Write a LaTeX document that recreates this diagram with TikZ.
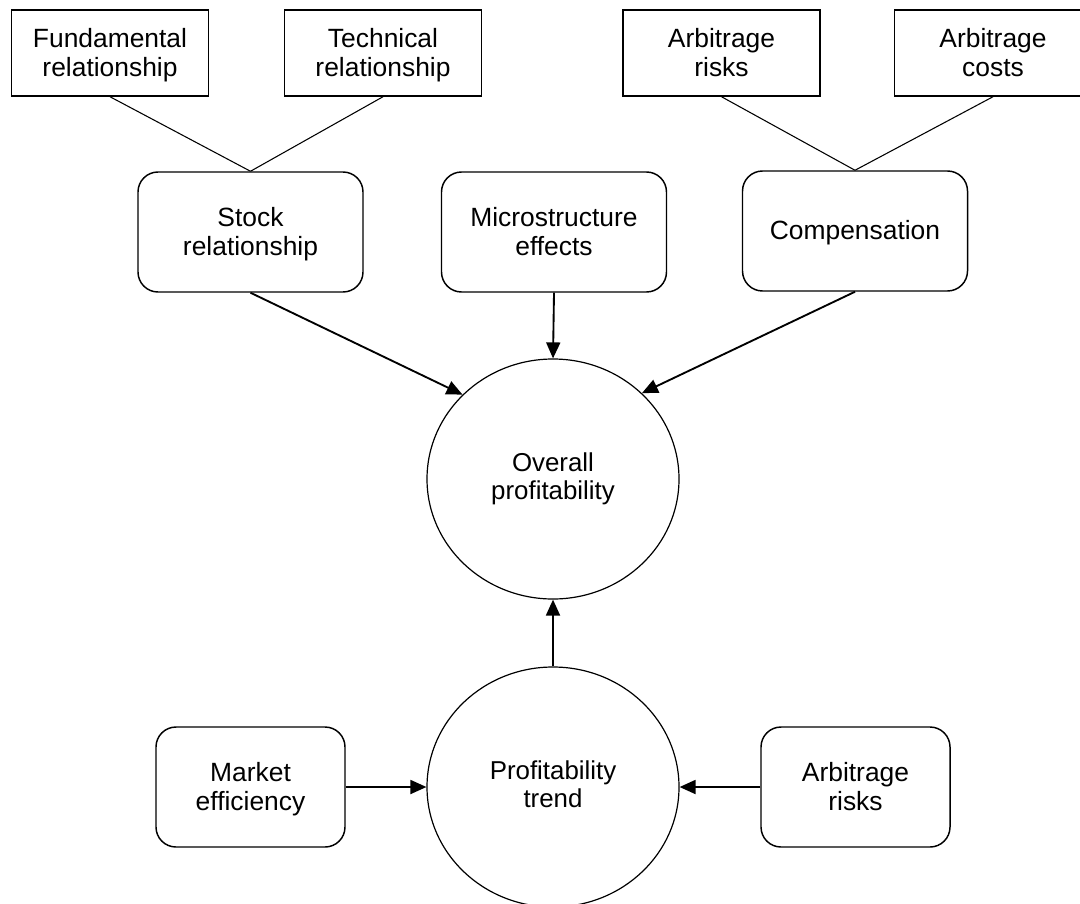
\documentclass[tikz,border=0pt]{standalone}
\usepackage{fontspec}
\setmainfont{Liberation Sans}
\newcommand{\diagfont}{\fontsize{19.8}{21.75}\selectfont}
\newcommand{\roundfont}{\fontsize{19.4}{21.5}\selectfont}
\usetikzlibrary{arrows.meta, positioning, shapes.geometric}

\begin{document}
\begin{tikzpicture}[
  x=0.75pt, y=-0.75pt,
  factor/.style={draw, line width=1.1pt, minimum width=147.5pt, text depth=1.5pt,
                 minimum height=64.5pt, align=center, font=\diagfont},
  driver/.style={draw, rounded corners=15pt, line width=1.1pt, minimum width=168.75pt,
                 text depth=1.5pt, minimum height=90pt, align=center, font=\diagfont},
  outcome/.style={draw, ellipse, line width=0.9pt, minimum width=189pt, text depth=4.3pt,
                  minimum height=180pt, align=center, font=\roundfont},
  link/.style={line width=0.8pt},
  arr/.style={-{Triangle[length=12pt, width=10.5pt]}, line width=1.4pt}
]
\clip (0,0) rectangle (1080,903);

\node[factor] (fund)    at (110,53)   {Fundamental\\relationship};
\node[factor] (tech)    at (383,53)   {Technical\\relationship};
\node[factor] (arbrisk) at (721.5,53) {Arbitrage\\risks};
\node[factor] (arbcost) at (993,53)   {Arbitrage\\costs};

\node[driver] (stock) at (250.5,232) {Stock\\relationship};
\node[driver] (micro) at (554,232)   {Microstructure\\effects};
\node[driver] (comp)  at (855,231)   {Compensation};

\node[outcome] (overall) at (553,479) {Overall\\profitability};
\node[outcome] (trend)   at (553,787) {Profitability\\trend};

\node[driver, minimum width=141.75pt] (market) at (250.5,787) {Market\\efficiency};
\node[driver, minimum width=141.75pt] (risk)   at (855.5,787) {Arbitrage\\risks};

\draw[link] (fund.south) -- (stock.north);
\draw[link] (tech.south) -- (stock.north);
\draw[link] (arbrisk.south) -- (comp.north);
\draw[link] (arbcost.south) -- (comp.north);

\draw[arr] (stock.south) -- (overall.137);
\draw[arr] (micro.south) -- (overall.north);
\draw[arr] (comp.south) -- (overall.44);
\draw[arr] (trend.north) -- (overall.south);
\draw[arr] (market.east) -- (trend.west);
\draw[arr] (risk.west) -- (trend.east);

\end{tikzpicture}
\end{document}
